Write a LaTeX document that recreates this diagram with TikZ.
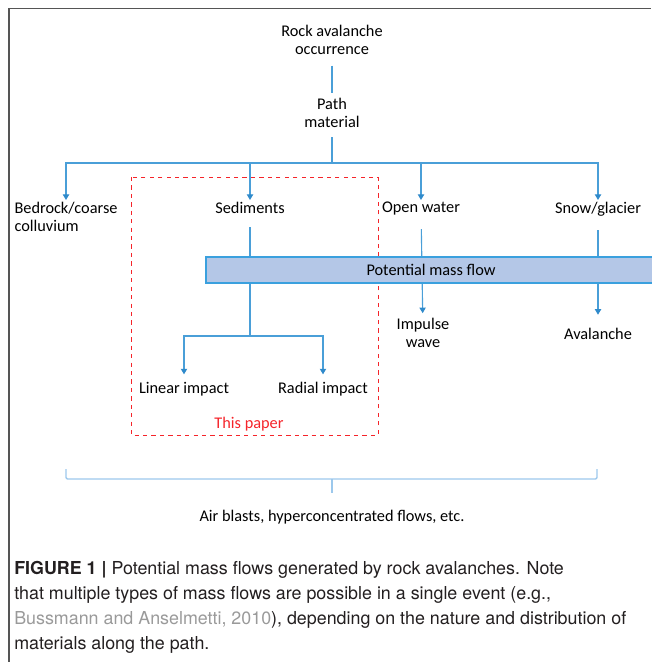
\documentclass[tikz,border=0pt]{standalone}
\usepackage{fontspec}
\usepackage{xcolor}
\setmainfont{Carlito}
\newfontfamily\capfont{TeX Gyre Heros}
\usetikzlibrary{arrows.meta,positioning}

\definecolor{flowblue}{HTML}{4A9FD8}
\definecolor{tipblue}{HTML}{2F8ACB}
\definecolor{boxfill}{HTML}{B4C7E7}
\definecolor{boxline}{HTML}{3AA0DE}
\definecolor{bracecol}{HTML}{9CC8EC}
\definecolor{paperred}{HTML}{F5242A}
\definecolor{framegray}{HTML}{555555}
\definecolor{capgray}{HTML}{9A9A9A}
\definecolor{captext}{HTML}{231F20}

\newcommand{\diagfont}{\fontsize{11.6}{12.8}\selectfont}
\newcommand{\capsize}{\fontsize{12.7}{14}\selectfont}

\begin{document}
\begin{tikzpicture}[
    x=0.025cm, y=-0.025cm,
    lbl/.style={font=\diagfont, align=center, inner sep=1.5pt},
    link/.style={draw=flowblue, line width=0.8pt},
    arrow/.style={link, -{Triangle[length=4pt,width=4.5pt,color=tipblue]}},
    massbox/.style={rectangle, draw=boxline, line width=1.2pt, fill=boxfill, minimum width=11.25cm, minimum height=0.65cm, font=\diagfont, inner sep=0pt},
    paperbox/.style={draw=paperred, dashed, line width=0.7pt},
    brace/.style={draw=bracecol, line width=1pt, rounded corners=1pt},
    frame/.style={draw=framegray, line width=0.9pt},
    capline/.style={font=\capfont\capsize, text=captext, anchor=base west, inner sep=0pt}
]
    \useasboundingbox (0,0) rectangle (651,662);
    \draw[frame] (9,662) -- (9,8.5) -- (651,8.5);

    % Top of the tree
    \node[lbl] (rock) at (332,40) {Rock avalanche\\occurrence};
    \node[lbl] (path) at (332,113) {Path\\material};
    \coordinate (bus) at (332,163);

    % Path materials
    \node[lbl, anchor=north, align=left] (bedrock) at (66,200) {Bedrock/coarse\\colluvium};
    \node[lbl, anchor=north] (sed) at (250,200) {Sediments};
    \node[lbl, anchor=north] (water) at (421,200) {Open water};
    \node[lbl, anchor=north] (snow) at (598,200) {Snow/glacier};

    % Outcomes
    \node[lbl, anchor=north] (impulse) at (423,316) {Impulse\\wave};
    \node[lbl, anchor=north] (aval) at (598,326) {Avalanche};
    \coordinate (split) at (250,336);
    \node[lbl, anchor=north] (linear) at (184,380) {Linear impact};
    \node[lbl, anchor=north] (radial) at (323,380) {Radial impact};

    % This paper
    \draw[paperbox] (131,177) rectangle (378,435);
    \node[lbl, text=paperred] (paper) at (249,424) {This paper};

    % Connectors
    \draw[link, shorten <=6pt, shorten >=2pt] (rock) -- (path);
    \draw[link, shorten <=5pt] (path) -- (bus);
    \draw[arrow] (bus) -| (bedrock.north);
    \draw[arrow] (bus) -| (sed.north);
    \draw[arrow] (bus) -| (water.north);
    \draw[arrow] (bus) -| (snow.north);
    \draw[link, shorten <=8pt] (sed) -- (split);
    \draw[arrow, shorten >=4pt] (split) -| (linear.north);
    \draw[arrow, shorten >=4pt] (split) -| (radial.north);
    \draw[arrow, shorten <=8pt, shorten >=2pt] (water) -- (impulse);
    \draw[arrow, shorten <=8pt, shorten >=8pt] (snow) -- (aval);

    % Potential mass flow band (drawn over the connectors)
    \node[massbox] (pmf) at (431,270) {Potential mass flow};

    % Bracket for the common outcomes
    \coordinate (braceL) at (66,469);
    \coordinate (braceR) at (597,469);
    \coordinate (braceM) at (332,479);
    \draw[brace] (braceL) -- ++(0,10) -| (braceR);
    \draw[brace] (braceM) -- ++(0,14);
    \node[lbl] (air) at (332,517) {Air blasts, hyperconcentrated flows, etc.};

    % Caption
    \node[capline] (cap1) at (14,574) {\textbf{FIGURE 1 |} Potential mass flows generated by rock avalanches. Note};
    \node[capline] (cap2) at (14,599) {that multiple types of mass flows are possible in a single event (e.g.,};
    \node[capline] (cap3) at (14,624) {\textcolor{capgray}{Bussmann and Anselmetti, 2010}), depending on the nature and distribution of};
    \node[capline] (cap4) at (14,649) {materials along the path.};
\end{tikzpicture}
\end{document}
